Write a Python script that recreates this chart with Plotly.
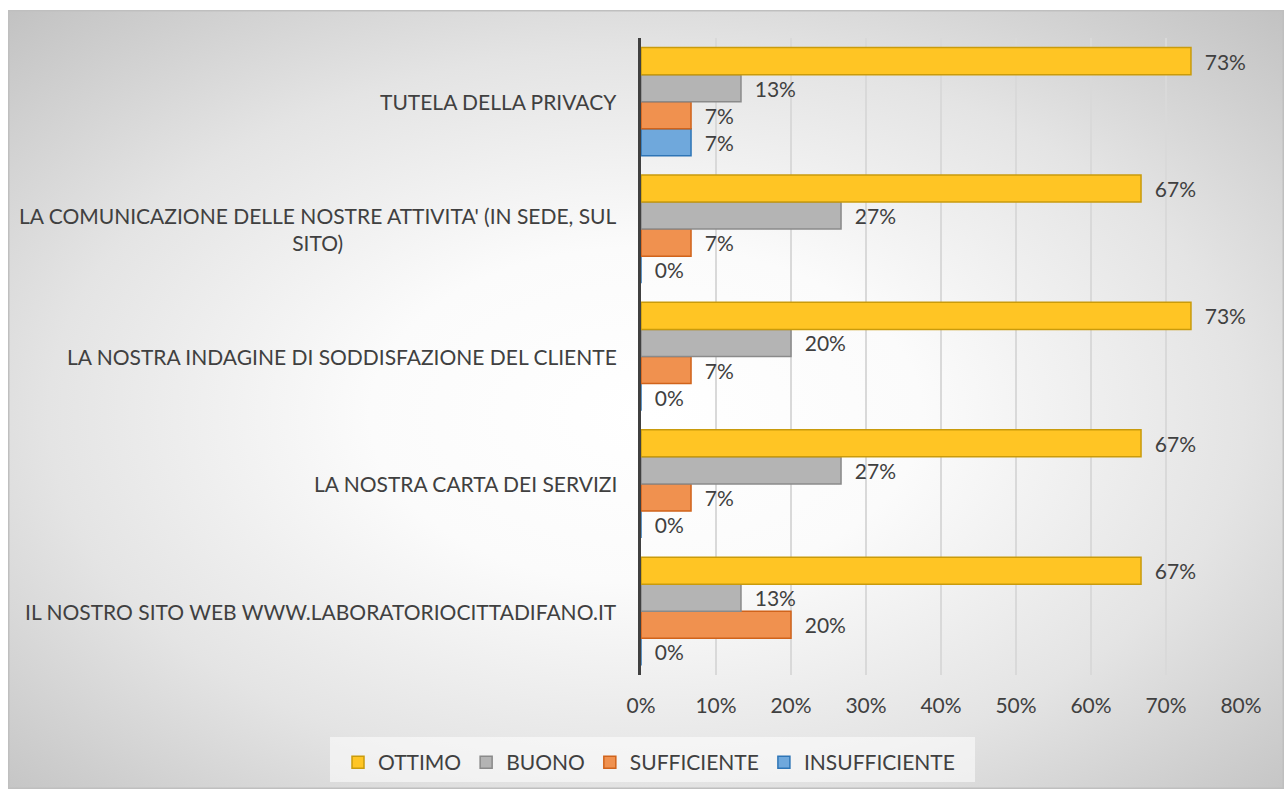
import base64
import plotly.graph_objects as go

# ---- data ----
categories = [
    "IL NOSTRO SITO WEB WWW.LABORATORIOCITTADIFANO.IT",
    "LA NOSTRA CARTA DEI SERVIZI",
    "LA NOSTRA INDAGINE DI SODDISFAZIONE DEL CLIENTE",
    "LA COMUNICAZIONE DELLE NOSTRE ATTIVITA' (IN SEDE, SUL<br>SITO)",
    "TUTELA DELLA PRIVACY",
]
ottimo = [0.6667, 0.6667, 0.7333, 0.6667, 0.7333]
buono = [0.1333, 0.2667, 0.2000, 0.2667, 0.1333]
sufficiente = [0.2000, 0.0667, 0.0667, 0.0667, 0.0667]
insufficiente = [0.0, 0.0, 0.0, 0.0, 0.0667]

x_ticks = [0, 0.1, 0.2, 0.3, 0.4, 0.5, 0.6, 0.7, 0.8]

FONT = "Lato"
TXT = "#404040"
FS = 21

series = [
    ("INSUFFICIENTE", insufficiente, "#6FA8DC", "#2E75B6"),
    ("SUFFICIENTE", sufficiente, "#F0914F", "#D0631B"),
    ("BUONO", buono, "#B4B4B4", "#8A8A8A"),
    ("OTTIMO", ottimo, "#FFC524", "#C99B0C"),
]

fig = go.Figure()
for name, vals, fill, line in series:
    fig.add_trace(go.Bar(
        y=categories, x=vals, name=name, orientation="h",
        marker=dict(color=fill, line=dict(color=line, width=1.5)),
        texttemplate="\u00a0\u00a0%{x:.0%}", textposition="outside",
        constraintext="none",
        textfont=dict(family=FONT, size=FS, color=TXT),
        cliponaxis=False,
    ))

# category labels (centered multi-line like the original)
for c in categories:
    fig.add_annotation(
        x=0, xref="paper", y=c, yref="y", text=c, showarrow=False,
        xanchor="right", xshift=-22, align="center",
        font=dict(family=FONT, size=FS, color=TXT),
    )

# radial gradient background
svg = (
    '<svg xmlns="http://www.w3.org/2000/svg" width="1276" height="779" '
    'preserveAspectRatio="none" viewBox="0 0 1276 779">'
    '<defs><radialGradient id="g" cx="0.5" cy="0.52" r="0.72">'
    '<stop offset="0" stop-color="#ffffff"/>'
    '<stop offset="0.3" stop-color="#fbfbfb"/>'
    '<stop offset="0.65" stop-color="#e4e4e4"/>'
    '<stop offset="1" stop-color="#c2c2c2"/>'
    '</radialGradient></defs>'
    '<rect width="1276" height="779" fill="url(#g)" stroke="#bfbfbf" stroke-width="3"/>'
    '</svg>'
)
src = "data:image/svg+xml;base64," + base64.b64encode(svg.encode()).decode()

W, H = 1284, 789
L, R, T, B = 641, 43, 38, 114
PW, PH = W - L - R, H - T - B


def px(xp):
    return (xp - L) / PW


def py(yp):
    return 1 - (yp - T) / PH


fig.add_layout_image(
    source=src, xref="paper", yref="paper",
    x=px(8), y=py(10),
    sizex=1276 / PW, sizey=779 / PH,
    xanchor="left", yanchor="top", sizing="stretch", layer="below",
)

# legend box
fig.add_shape(
    type="rect", xref="paper", yref="paper",
    x0=px(330), x1=px(975), y0=py(782), y1=py(737),
    fillcolor="rgba(255,255,255,0.55)", line=dict(width=0), layer="below",
)

fig.update_layout(
    width=W, height=H,
    margin=dict(l=L, r=R, t=T, b=B, autoexpand=False),
    paper_bgcolor="white", plot_bgcolor="rgba(0,0,0,0)",
    barmode="group", bargap=0.15, bargroupgap=0,
    font=dict(family=FONT, size=FS, color=TXT),
    legend=dict(
        orientation="h", traceorder="reversed",
        x=px(338), xanchor="left",
        y=py(742), yanchor="top",
        bgcolor="rgba(0,0,0,0)",
        font=dict(family=FONT, size=FS, color=TXT),
        itemwidth=30,
    ),
    xaxis=dict(
        range=[0, 0.8], tickvals=x_ticks, tickformat=".0%",
        showgrid=True, gridcolor="#d9d9d9", gridwidth=1.5,
        zeroline=False, showline=False, ticks="",
        ticklabelstandoff=16,
        tickfont=dict(family=FONT, size=FS, color=TXT),
    ),
    yaxis=dict(
        showticklabels=False, showline=True, linecolor="#404040", linewidth=3,
        showgrid=False, ticks="",
    ),
)

fig.write_html(
    "out.html",
    config={"displayModeBar": False},
    post_script="document.body.style.margin='0';document.body.style.overflow='hidden';",
)
